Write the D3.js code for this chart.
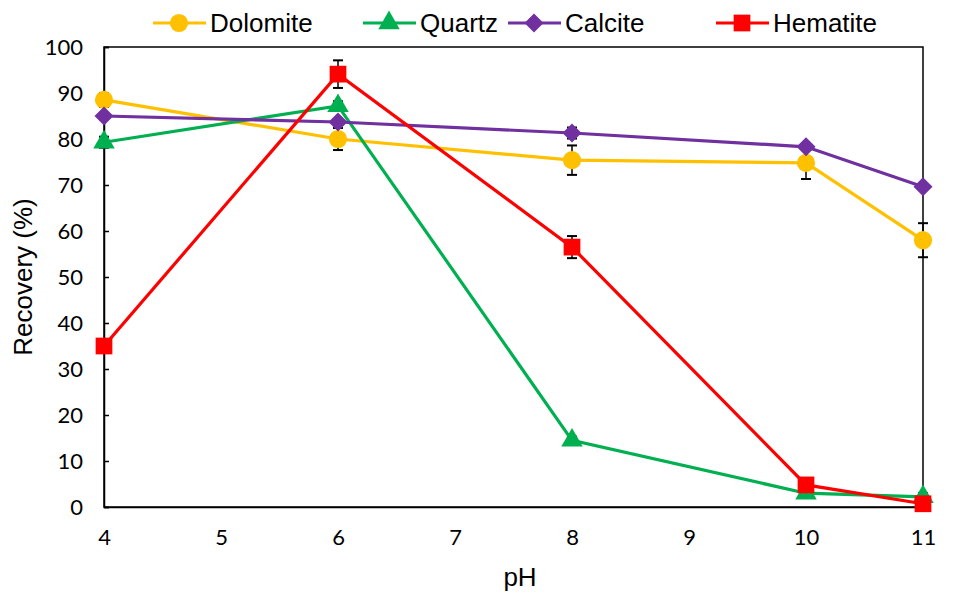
<!DOCTYPE html>
<html>
<head>
<meta charset="utf-8">
<script src="https://cdn.jsdelivr.net/npm/d3@7"></script>
<style>
  body { margin: 0; background: #fff; }
  svg { display: block; }
</style>
</head>
<body>
<svg class="chart" width="958" height="595"></svg>
<script>
const pH = [4, 6, 8, 10, 11];
const xTicks = [4, 5, 6, 7, 8, 9, 10, 11];
const yTicks = [0, 10, 20, 30, 40, 50, 60, 70, 80, 90, 100];

const seriesNames = ['Dolomite', 'Quartz', 'Calcite', 'Hematite'];
const dolomite = [88.5, 80.0, 75.4, 74.8, 58.0];
const dolomiteErr = [1.5, 2.4, 3.2, 3.5, 3.7];
const quartz = [79.3, 87.2, 14.5, 3.0, 2.2];
const quartzErr = [1.2, 1.0, 0.8, 0.6, 0.8];
const calcite = [85.0, 83.7, 81.3, 78.3, 69.6];
const calciteErr = [0.5, 0.5, 1.2, 0.5, 0.5];
const hematite = [35.0, 94.1, 56.5, 4.8, 0.7];
const hematiteErr = [0.5, 3.0, 2.4, 0.5, 0.5];

const svg = d3.select('.chart');
const margin = { top: 47, right: 35, bottom: 88, left: 104 };
const width = +svg.attr('width');
const height = +svg.attr('height');
const innerWidth = width - margin.left - margin.right;
const innerHeight = height - margin.top - margin.bottom;

const x = d3.scaleLinear().domain([4, 11]).range([0, innerWidth]);
const y = d3.scaleLinear().domain([0, 100]).range([innerHeight, 0]);

const g = svg.append('g')
    .attr('transform', `translate(${margin.left},${margin.top})`);

// frame
g.append('rect')
    .attr('width', innerWidth)
    .attr('height', innerHeight)
    .attr('fill', 'none')
    .attr('stroke', '#000')
    .attr('stroke-width', 1.5);

// y axis, ticks pointing in
const yAxis = g.append('g')
    .call(d3.axisLeft(y).tickValues(yTicks).tickSize(-5).tickPadding(21));
yAxis.select('.domain').attr('stroke-width', 1.5);
yAxis.selectAll('line').attr('stroke-width', 1.5);
yAxis.selectAll('text')
    .style('font-family', 'Lato, Carlito, sans-serif')
    .style('font-size', '22px')
    .attr('fill', '#000');

// x axis
const xAxis = g.append('g')
    .attr('transform', `translate(0,${innerHeight})`)
    .call(d3.axisBottom(x).tickValues(xTicks).tickFormat(d3.format('d')).tickSize(0).tickPadding(22));
xAxis.select('.domain').attr('stroke-width', 1.5);
xAxis.selectAll('text')
    .style('font-family', 'Lato, Carlito, sans-serif')
    .style('font-size', '22px')
    .attr('fill', '#000');

// axis titles
svg.append('text')
    .attr('transform', 'translate(32,277) rotate(-90)')
    .attr('text-anchor', 'middle')
    .style('font-family', 'Liberation Sans, Arial, sans-serif')
    .style('font-size', '26px')
    .text('Recovery (%)');

svg.append('text')
    .attr('x', 520)
    .attr('y', 586)
    .attr('text-anchor', 'middle')
    .style('font-family', 'Liberation Sans, Arial, sans-serif')
    .style('font-size', '26px')
    .text('pH');

const diamond = {
    draw(ctx, size) {
        const r = Math.sqrt(size / 2);
        ctx.moveTo(0, -r); ctx.lineTo(r, 0); ctx.lineTo(0, r); ctx.lineTo(-r, 0); ctx.closePath();
    }
};

const series = [
    { name: 'Dolomite', values: dolomite, err: dolomiteErr, color: '#FFC000', symbol: d3.symbolCircle, size: 260 },
    { name: 'Quartz', values: quartz, err: quartzErr, color: '#00B050', symbol: d3.symbolTriangle, size: 200 },
    { name: 'Calcite', values: calcite, err: calciteErr, color: '#7030A0', symbol: diamond, size: 180 },
    { name: 'Hematite', values: hematite, err: hematiteErr, color: '#FF0000', symbol: d3.symbolSquare, size: 280 }
];

const line = d3.line().x(d => x(d.x)).y(d => y(d.y));

series.forEach(s => {
    const pts = pH.map((p, i) => ({ x: p, y: s.values[i], e: s.err[i] }));
    const sg = g.append('g');

    // error bars
    const eb = sg.selectAll('.err').data(pts).join('g');
    eb.append('line')
        .attr('x1', d => x(d.x)).attr('x2', d => x(d.x))
        .attr('y1', d => y(d.y + d.e)).attr('y2', d => y(d.y - d.e))
        .attr('stroke', '#000').attr('stroke-width', 1.5);
    [1, -1].forEach(sign => {
        eb.append('line')
            .attr('x1', d => x(d.x) - 5).attr('x2', d => x(d.x) + 5)
            .attr('y1', d => y(d.y + sign * d.e)).attr('y2', d => y(d.y + sign * d.e))
            .attr('stroke', '#000').attr('stroke-width', 2);
    });

    sg.append('path')
        .datum(pts)
        .attr('d', line)
        .attr('fill', 'none')
        .attr('stroke', s.color)
        .attr('stroke-width', 3.2);

    sg.selectAll('.mk').data(pts).join('path')
        .attr('transform', d => `translate(${x(d.x)},${y(d.y)})`)
        .attr('d', d3.symbol(s.symbol, s.size))
        .attr('fill', s.color);
});

// legend
const legendTextX = [210, 420, 565, 773];
const legend = svg.append('g');
series.forEach((s, i) => {
    const lg = legend.append('g').attr('transform', `translate(${legendTextX[i]},23)`);
    lg.append('line')
        .attr('x1', -57).attr('x2', -4)
        .attr('stroke', s.color).attr('stroke-width', 3.2);
    lg.append('path')
        .attr('transform', 'translate(-31,0)')
        .attr('d', d3.symbol(s.symbol, s.size))
        .attr('fill', s.color);
    lg.append('text')
        .attr('x', 0)
        .attr('y', 9)
        .style('font-family', 'Liberation Sans, Arial, sans-serif')
        .style('font-size', '26px')
        .text(seriesNames[i]);
});
</script>
</body>
</html>
